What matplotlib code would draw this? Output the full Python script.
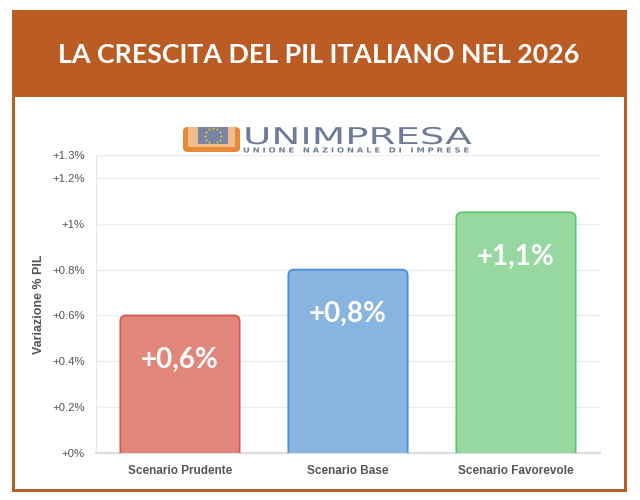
import numpy as np
import matplotlib
matplotlib.use('Agg')
import matplotlib.pyplot as plt
from matplotlib.patches import Rectangle, FancyBboxPatch
from matplotlib.lines import Line2D
from matplotlib.patheffects import AbstractPathEffect
from matplotlib.transforms import Affine2D

# data
scenari = ['Scenario Prudente', 'Scenario Base', 'Scenario Favorevole']
valori = [0.6, 0.8, 1.05]
etichette = ['+0,6%', '+0,8%', '+1,1%']
yticks = [0, 0.2, 0.4, 0.6, 0.8, 1.0, 1.2, 1.3]
ytick_labels = ['+0%', '+0.2%', '+0.4%', '+0.6%', '+0.8%', '+1%', '+1.2%', '+1.3%']

fill_colors = ['#e0867b', '#88b4e0', '#97d8a0']
edge_colors = ['#d65a4e', '#4a8ed6', '#5cc46c']

ORANGE = '#ba5c24'
LOGO_GREY = '#6f7c98'
W, H = 640, 500

plt.rcParams['font.family'] = ['Liberation Sans', 'DejaVu Sans']

fig = plt.figure(figsize=(6.4, 5), dpi=100)
fig.patch.set_facecolor('white')


def fx(px):
    return px / W


def fy(py):
    return 1 - py / H


class Stretch(AbstractPathEffect):
    """stretch text horizontally around x0 (display px) - logo lettering is extended"""
    def __init__(self, sx, x0):
        super().__init__()
        self.sx = sx
        self.x0 = x0

    def draw_path(self, renderer, gc, tpath, affine, rgbFace=None):
        extra = Affine2D().translate(-self.x0, 0).scale(self.sx, 1).translate(self.x0, 0)
        renderer.draw_path(gc, tpath, affine + extra, rgbFace)


# frame + header band
fig.patches.append(Rectangle((fx(12), fy(492)), fx(627) - fx(12), fy(10) - fy(492),
                             transform=fig.transFigure, facecolor=ORANGE, edgecolor='none', zorder=0))
fig.patches.append(Rectangle((fx(15), fy(489)), fx(624) - fx(15), fy(97) - fy(489),
                             transform=fig.transFigure, facecolor='white', edgecolor='none', zorder=1))
fig.text(fx(319), fy(55), 'LA CRESCITA DEL PIL ITALIANO NEL 2026', color='white',
         fontsize=19.3, fontweight='bold', family='Lato', ha='center', va='center')

# logo icon
fig.patches.append(FancyBboxPatch((fx(183), fy(152)), fx(57), fy(127) - fy(152),
                                  boxstyle='round,pad=0,rounding_size=0.008',
                                  transform=fig.transFigure, facecolor='#e8893a',
                                  edgecolor='none', zorder=2))
fig.patches.append(Rectangle((fx(188), fy(147)), fx(47), fy(127) - fy(147),
                             transform=fig.transFigure, facecolor='#f3bb8c',
                             edgecolor='none', zorder=3))
fig.patches.append(Rectangle((fx(198), fy(144)), fx(30), fy(127) - fy(144),
                             transform=fig.transFigure, facecolor='#7884a1',
                             edgecolor='none', zorder=4))
ang = np.linspace(0, 2 * np.pi, 12, endpoint=False)
fig.add_artist(Line2D(fx(213) + fx(8) * np.cos(ang), fy(135.5) + fx(8) * 1.28 * np.sin(ang),
                      transform=fig.transFigure, marker='*', ls='none', ms=2.2,
                      color='#f2d60c', mec='none', zorder=5))

# logo lettering
fig.text(fx(243), fy(144), 'UNIMPRESA', color=LOGO_GREY, fontsize=16.6,
         family='DejaVu Sans', ha='left', va='baseline', zorder=5,
         path_effects=[Stretch(1.68, 243)])
fig.text(fx(243), fy(152.5), 'U N I O N E   N A Z I O N A L E   D I   I M P R E S E',
         color=LOGO_GREY, fontsize=5, fontweight='bold', family='DejaVu Sans',
         ha='left', va='baseline', zorder=5, path_effects=[Stretch(1.2, 243)])

# chart
ax = fig.add_axes([fx(96), fy(453), fx(600) - fx(96), fy(155) - fy(453)])
ax.set_zorder(3)
ax.patch.set_alpha(0)
x = list(range(len(scenari)))
bars = ax.bar(x, valori, width=0.71, color='none', edgecolor='none')
for b, fc, ec in zip(bars, fill_colors, edge_colors):
    # rounded top only: bottom pushed below the axis and clipped away
    p = FancyBboxPatch((b.get_x(), -0.05), b.get_width(), b.get_height() + 0.05,
                       boxstyle='round,pad=0,rounding_size=0.035', mutation_aspect=0.72,
                       facecolor=fc, edgecolor=ec, linewidth=1.3, zorder=3)
    ax.add_patch(p)
for xi, v, lab in zip(x, valori, etichette):
    ax.text(xi, v - 0.195, lab, color='white', fontsize=20, fontweight='bold',
            family='Lato', ha='center', va='center', zorder=4)

ax.set_xlim(-0.5, 2.5)
ax.set_ylim(0, 1.3)
ax.set_yticks(yticks)
ax.set_yticklabels(ytick_labels)
ax.set_xticks(x)
ax.set_xticklabels(scenari, fontweight='bold')
ax.tick_params(axis='y', length=0, pad=8, labelsize=8.2, labelcolor='#555555')
ax.tick_params(axis='x', length=0, pad=9, labelsize=8.5, labelcolor='#555555')
ax.grid(axis='y', color='#eeeeee', linewidth=1)
ax.set_axisbelow(True)
for s in ['top', 'right']:
    ax.spines[s].set_visible(False)
ax.spines['left'].set_color('#e6e6e6')
ax.spines['bottom'].set_color('#dddddd')
ax.spines['bottom'].set_linewidth(1.5)
ax.set_ylabel('Variazione % PIL', fontsize=9, fontweight='bold', color='#555555', labelpad=5)

fig.savefig('out.png', dpi=100)
